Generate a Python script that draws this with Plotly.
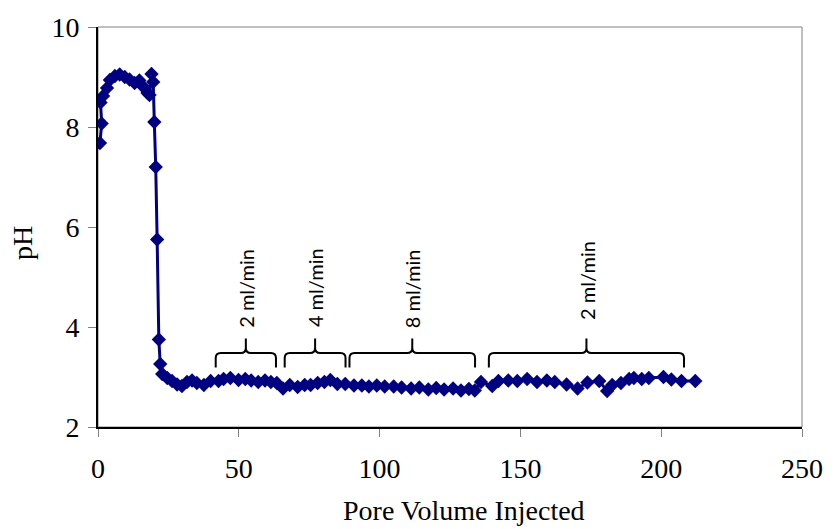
import plotly.graph_objects as go

# ---- data ----
pore_volume = [
    0.7, 1.3, 0.9, 1.8, 3.2, 4.2, 6.0, 7.7, 9.5, 11.2, 13.0, 14.7, 15.8, 17.6, 18.3, 19.0, 19.6,
    20.0, 20.5, 21.0, 21.6, 22.1, 22.8, 24.6, 26.3, 28.1, 29.8, 31.6, 33.4, 35.1, 37.6,
    40.0, 42.8, 44.6, 47.0, 49.9, 52.3, 54.4, 56.9, 59.3, 61.4, 63.5,
    65.7, 68.1, 70.9, 73.4, 75.5, 78.0, 80.4, 82.5, 85.0, 87.8,
    90.9, 93.7, 96.2, 99.0, 101.8, 105.0, 107.8, 111.2, 114.1, 117.3, 120.1, 122.9, 126.1,
    128.9, 131.7, 133.8,
    136.0, 140.0, 142.2, 145.7, 148.9, 152.4, 155.9, 159.4, 162.2, 166.4, 170.3, 173.8, 178.0,
    180.8, 182.6, 185.7, 188.6, 190.3, 193.1, 195.6, 200.8, 203.6, 207.2, 212.1,
]
ph = [
    7.68, 8.07, 8.49, 8.62, 8.78, 8.94, 9.02, 9.05, 9.0, 8.95, 8.88, 8.93, 8.82, 8.68, 8.64, 9.06, 8.9,
    8.1, 7.2, 5.75, 3.75, 3.26, 3.06, 2.98, 2.92, 2.85, 2.82, 2.9, 2.93, 2.88, 2.84,
    2.92, 2.92, 2.96, 2.98, 2.94, 2.96, 2.93, 2.9, 2.93, 2.9, 2.88,
    2.77, 2.84, 2.8, 2.84, 2.84, 2.88, 2.9, 2.94, 2.86, 2.86,
    2.83, 2.83, 2.81, 2.83, 2.81, 2.81, 2.79, 2.77, 2.79, 2.75, 2.78, 2.75, 2.77,
    2.73, 2.76, 2.73,
    2.9, 2.82, 2.92, 2.93, 2.92, 2.96, 2.9, 2.93, 2.9, 2.85, 2.77, 2.89, 2.92,
    2.72, 2.84, 2.88, 2.96, 2.98, 2.96, 2.98, 3.0, 2.95, 2.92, 2.92,
]

# flow-rate periods: start, end, label
period_start = [41.8, 66.3, 89.3, 138.8]
period_end = [63.2, 87.9, 133.9, 208.1]
period_label = ["2 ml/min", "4 ml/min", "8 ml/min", "2 ml/min"]

x_ticks = [0, 50, 100, 150, 200, 250]
y_ticks = [2, 4, 6, 8, 10]
x_title = "Pore Volume Injected"
y_title = "pH"

# ---- figure ----
fig = go.Figure()
fig.add_trace(go.Scatter(
    x=pore_volume, y=ph, mode="lines+markers",
    line=dict(color="#000080", width=3),
    marker=dict(symbol="diamond", size=11, color="#000080"),
    showlegend=False,
))

# brace geometry (data units)
y_end, y_bar, y_top = 3.19, 3.48, 3.77
rx, dy = 1.8, 0.1
label_y = [3.95, 3.95, 3.93, 4.1]

serif = "Liberation Serif"
shapes = [dict(type="rect", xref="paper", yref="paper", x0=0, y0=0, x1=1, y1=1,
               line=dict(color="#808080", width=1), layer="below")]
annotations = []
for x0, x1, lab, ly in zip(period_start, period_end, period_label, label_y):
    xm = (x0 + x1) / 2
    path = (f"M {x0},{y_end} L {x0},{y_bar - dy} Q {x0},{y_bar} {x0 + rx},{y_bar} "
            f"L {xm - rx},{y_bar} Q {xm},{y_bar} {xm},{y_bar + dy} L {xm},{y_top} "
            f"L {xm},{y_bar + dy} Q {xm},{y_bar} {xm + rx},{y_bar} "
            f"L {x1 - rx},{y_bar} Q {x1},{y_bar} {x1},{y_bar - dy} L {x1},{y_end}")
    shapes.append(dict(type="path", xref="x", yref="y", path=path,
                       line=dict(color="black", width=2)))
    annotations.append(dict(x=xm, y=ly, xref="x", yref="y", text=lab, textangle=-90,
                            showarrow=False, xanchor="center", yanchor="bottom",
                            font=dict(family="Lato", size=20, color="black")))

# axis titles
annotations.append(dict(x=0.52, y=-0.209, xref="paper", yref="paper", text=x_title,
                        showarrow=False, xanchor="center", yanchor="middle",
                        font=dict(family=serif, size=28, color="black")))
annotations.append(dict(x=-0.107, y=0.459, xref="paper", yref="paper", text=y_title,
                        textangle=-90, showarrow=False, xanchor="center", yanchor="middle",
                        font=dict(family=serif, size=28, color="black")))

fig.update_layout(
    width=835, height=529,
    margin=dict(l=98, r=25, t=20, b=102),
    paper_bgcolor="white", plot_bgcolor="white",
    shapes=shapes, annotations=annotations,
    font=dict(family=serif, size=28, color="black"),
    xaxis=dict(range=[0, 250], tickvals=x_ticks, showgrid=False, zeroline=False,
               showline=True, linecolor="black", linewidth=2,
               ticks="outside", ticklen=8, tickcolor="#808080", tickwidth=1,
               ticklabelstandoff=7),
    yaxis=dict(range=[2, 10], tickvals=y_ticks, showgrid=False, zeroline=False,
               showline=True, linecolor="black", linewidth=2,
               ticks="outside", ticklen=8, tickcolor="#808080", tickwidth=1,
               ticklabelstandoff=3),
)

fig.write_html("out.html")
